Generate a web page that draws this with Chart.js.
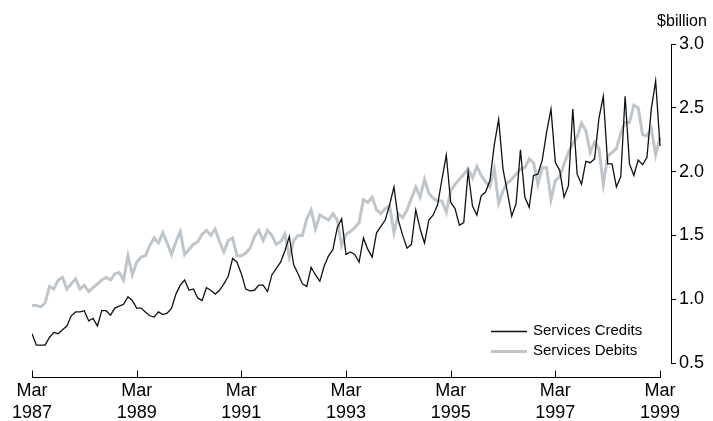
<!DOCTYPE html>
<html>
<head>
<meta charset="utf-8">
<title>Services Credits and Debits</title>
<script src="https://cdn.jsdelivr.net/npm/chart.js@4.4.0/dist/chart.umd.min.js"></script>
<style>
    html, body { margin: 0; padding: 0; background: #fff; }
    #wrap { width: 713px; height: 421px; }
</style>
</head>
<body>
<div id="wrap"><canvas id="servicesChart" width="713" height="421"></canvas></div>
<script>
// Monthly series, Mar 1987 to Mar 1999 ($billion)
const monthNames = ['Jan', 'Feb', 'Mar', 'Apr', 'May', 'Jun', 'Jul', 'Aug', 'Sep', 'Oct', 'Nov', 'Dec'];
const months = [];
for (let i = 0; i <= 144; i++) {
    months.push(monthNames[(2 + i) % 12] + ' ' + (1987 + Math.floor((2 + i) / 12)));
}

const seriesNames = ['Services Credits', 'Services Debits'];

const servicesCredits = [
    0.73, 0.64, 0.64, 0.64, 0.70, 0.74, 0.73, 0.76, 0.79, 0.87, 0.90, 0.90, 0.91,
    0.83, 0.85, 0.79, 0.91, 0.91, 0.875, 0.93, 0.945, 0.96, 1.02, 0.99, 0.93,
    0.93, 0.90, 0.87, 0.86, 0.90, 0.88, 0.89, 0.93, 1.04, 1.11, 1.15, 1.07,
    1.08, 1.01, 0.99, 1.09, 1.07, 1.04, 1.07, 1.12, 1.18, 1.32, 1.29, 1.20,
    1.08, 1.065, 1.07, 1.11, 1.11, 1.06, 1.19, 1.24, 1.29, 1.38, 1.49, 1.27,
    1.20, 1.12, 1.10, 1.25, 1.19, 1.14, 1.26, 1.34, 1.39, 1.56, 1.63, 1.35,
    1.37, 1.35, 1.29, 1.48, 1.39, 1.33, 1.52, 1.57, 1.62, 1.74, 1.88, 1.62,
    1.50, 1.40, 1.43, 1.70, 1.55, 1.44, 1.62, 1.66, 1.74, 1.94, 2.13, 1.76,
    1.71, 1.58, 1.60, 2.00, 1.73, 1.66, 1.81, 1.84, 1.93, 2.21, 2.41, 2.02,
    1.84, 1.65, 1.75, 2.17, 1.80, 1.72, 1.97, 1.98, 2.09, 2.31, 2.49, 2.07,
    2.01, 1.80, 1.89, 2.49, 1.98, 1.90, 2.08, 2.07, 2.10, 2.42, 2.59, 2.06,
    2.06, 1.88, 1.96, 2.59, 2.06, 1.97, 2.09, 2.055, 2.11, 2.49, 2.71, 2.20
];

const servicesDebits = [
    0.95, 0.95, 0.94, 0.97, 1.10, 1.08, 1.15, 1.17, 1.08, 1.12, 1.16, 1.08, 1.11,
    1.06, 1.09, 1.12, 1.15, 1.17, 1.15, 1.20, 1.21, 1.15, 1.34, 1.19, 1.29,
    1.33, 1.34, 1.42, 1.48, 1.44, 1.52, 1.44, 1.35, 1.45, 1.53, 1.35, 1.39,
    1.43, 1.45, 1.51, 1.54, 1.50, 1.55, 1.45, 1.37, 1.46, 1.48, 1.34, 1.34,
    1.36, 1.40, 1.49, 1.54, 1.46, 1.54, 1.50, 1.43, 1.45, 1.51, 1.33, 1.46,
    1.50, 1.50, 1.63, 1.70, 1.55, 1.66, 1.64, 1.62, 1.67, 1.62, 1.42, 1.51,
    1.53, 1.56, 1.60, 1.78, 1.76, 1.80, 1.70, 1.67, 1.71, 1.73, 1.52, 1.67,
    1.64, 1.70, 1.79, 1.88, 1.80, 1.94, 1.83, 1.79, 1.77, 1.77, 1.68, 1.85,
    1.90, 1.94, 1.98, 2.02, 1.95, 2.04, 1.97, 1.92, 1.88, 2.02, 1.75, 1.85,
    1.91, 1.94, 1.98, 2.02, 2.03, 2.10, 2.07, 1.90, 2.03, 2.03, 1.78, 1.93,
    1.96, 2.06, 2.15, 2.22, 2.27, 2.38, 2.32, 2.15, 2.23, 2.18, 1.90, 2.12,
    2.15, 2.18, 2.30, 2.385, 2.385, 2.52, 2.50, 2.29, 2.28, 2.34, 2.13, 2.27
];

// x ticks every two years (month index from Mar 1987)
const tickMonths = [0, 24, 48, 72, 96, 120, 144];
const tickLabels = ['Mar 1987', 'Mar 1989', 'Mar 1991', 'Mar 1993', 'Mar 1995', 'Mar 1997', 'Mar 1999'];
const yTicks = [0.5, 1.0, 1.5, 2.0, 2.5, 3.0];
const unitLabel = '$billion';

const creditColor = '#111111';
const debitColor = '#bec6cc';
const fontFamily = '"Liberation Sans", Arial, sans-serif';

// Draws the detached x axis line, the unit label and the legend
const chartDecor = {
    id: 'chartDecor',
    afterDraw(chart) {
        const { ctx, chartArea, scales: { x } } = chart;
        const axisY = Math.round(chartArea.bottom) + 14.5;

        ctx.save();
        ctx.strokeStyle = '#000';
        ctx.lineWidth = 1;
        ctx.beginPath();
        ctx.moveTo(Math.round(x.getPixelForValue(tickMonths[0])), axisY);
        ctx.lineTo(Math.round(x.getPixelForValue(tickMonths[tickMonths.length - 1])) + 1, axisY);
        tickMonths.forEach(m => {
            const px = Math.round(x.getPixelForValue(m)) + 0.5;
            ctx.moveTo(px, axisY);
            ctx.lineTo(px, axisY - 7);
        });
        ctx.stroke();

        ctx.fillStyle = '#000';
        ctx.font = '16px ' + fontFamily;
        ctx.textAlign = 'center';
        ctx.textBaseline = 'alphabetic';
        ctx.fillText(unitLabel, chartArea.right + 11, 26);

        // legend, bottom right of the plot
        const lx = 491, ly = [331, 351];
        chart.data.datasets.forEach((ds, i) => {
            ctx.strokeStyle = ds.borderColor;
            ctx.lineWidth = ds.borderWidth;
            ctx.beginPath();
            ctx.moveTo(lx, ly[i] + 0.5);
            ctx.lineTo(lx + 36, ly[i] + 0.5);
            ctx.stroke();
            ctx.font = '15px ' + fontFamily;
            ctx.textAlign = 'left';
            ctx.textBaseline = 'middle';
            ctx.fillText(ds.label, lx + 42, ly[i]);
        });
        ctx.restore();
    }
};

document.addEventListener('DOMContentLoaded', function() {
    const ctx = document.getElementById('servicesChart').getContext('2d');
    new Chart(ctx, {
        type: 'line',
        data: {
            labels: months,
            datasets: [{
                label: seriesNames[0],
                data: servicesCredits.map((v, i) => ({ x: i, y: v })),
                borderColor: creditColor,
                borderWidth: 1.3,
                pointRadius: 0,
                tension: 0,
                order: 1
            }, {
                label: seriesNames[1],
                data: servicesDebits.map((v, i) => ({ x: i, y: v })),
                borderColor: debitColor,
                borderWidth: 3,
                pointRadius: 0,
                tension: 0,
                order: 2
            }]
        },
        options: {
            responsive: false,
            animation: false,
            devicePixelRatio: 1,
            layout: { padding: { left: 32, top: 44, right: 0, bottom: 0 } },
            plugins: {
                legend: { display: false },
                tooltip: { enabled: false }
            },
            scales: {
                x: {
                    type: 'linear',
                    min: 0,
                    max: 146.52,
                    border: { display: false },
                    grid: { display: false, drawTicks: false },
                    afterBuildTicks: scale => {
                        scale.ticks = tickMonths.map(v => ({ value: v }));
                    },
                    afterFit: scale => {
                        scale.height = 58;
                        scale.paddingLeft = 0;
                        scale.paddingRight = 0;
                    },
                    ticks: {
                        autoSkip: false,
                        maxRotation: 0,
                        minRotation: 0,
                        padding: 17,
                        color: '#000',
                        font: { family: fontFamily, size: 18, lineHeight: 1.22 },
                        callback: value => tickLabels[tickMonths.indexOf(value)].split(' ')
                    }
                },
                y: {
                    position: 'right',
                    min: 0.5,
                    max: 3.0,
                    border: { display: true, color: '#000', width: 1 },
                    grid: { drawOnChartArea: false, drawTicks: true, tickLength: 5, color: '#000' },
                    afterBuildTicks: scale => {
                        scale.ticks = yTicks.map(v => ({ value: v }));
                    },
                    afterFit: scale => {
                        scale.width = 42;
                    },
                    ticks: {
                        padding: 3,
                        color: '#000',
                        font: { family: fontFamily, size: 18 },
                        callback: value => value.toFixed(1)
                    }
                }
            }
        },
        plugins: [chartDecor]
    });
});
</script>
</body>
</html>
